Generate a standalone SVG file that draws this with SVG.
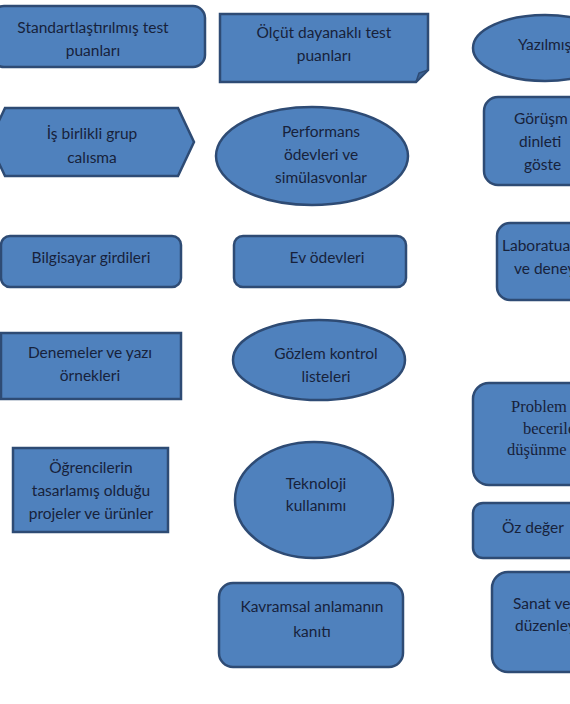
<svg xmlns="http://www.w3.org/2000/svg" width="570" height="704" viewBox="0 0 570 704">
<style>
.s{fill:#4f81bd;stroke:#2e4b74;stroke-width:2.5}
.t{font-family:Lato,"Open Sans","Liberation Sans",sans-serif;font-size:15.5px;fill:#17223b;text-anchor:middle;dominant-baseline:central}
.l{text-anchor:start}
.r{font-family:"Liberation Serif",serif;font-size:16.5px;fill:#17223b;text-anchor:start;dominant-baseline:central}
</style>
<rect width="570" height="704" fill="#ffffff"/>
<g id="n1"><rect class="s" x="-8" y="6" width="213" height="61" rx="12"/><text class="t" x="93" y="27">Standartlaştırılmış test</text><text class="t" x="93" y="50">puanları</text></g>
<g id="n2"><path class="s" d="M220,14 H428 V70 L416,82 H220 Z"/><path d="M416,82 L419,73 L428,70 Z" fill="#3b6294" stroke="#2e4b74" stroke-width="1.5"/><text class="t" x="324" y="32">Ölçüt dayanaklı test</text><text class="t" x="324" y="55">puanları</text></g>
<g id="n3"><ellipse class="s" cx="545" cy="48" rx="72" ry="33"/><text class="t l" x="518" y="44">Yazılmış</text></g>
<g id="n4"><path class="s" d="M5,108 H178 L194,142 L178,176 H5 L-11,142 Z"/><text class="t" x="92" y="133">İş birlikli grup</text><text class="t" x="92" y="157">calısma</text></g>
<g id="n5"><ellipse class="s" cx="312" cy="156" rx="96" ry="49"/><text class="t" x="321" y="131">Performans</text><text class="t" x="321" y="154">ödevleri ve</text><text class="t" x="321" y="177">simülasvonlar</text></g>
<g id="n6"><rect class="s" x="484" y="97" width="110" height="88" rx="14"/><text class="t l" x="514" y="118">Görüşm</text><text class="t l" x="519" y="141">dinleti</text><text class="t l" x="524" y="164">göste</text></g>
<g id="n7"><rect class="s" x="1" y="236" width="180" height="51" rx="9"/><text class="t" x="91" y="257">Bilgisayar girdileri</text></g>
<g id="n8"><rect class="s" x="234" y="236" width="172" height="51" rx="9"/><text class="t" x="327" y="257">Ev ödevleri</text></g>
<g id="n9"><rect class="s" x="497" y="223" width="100" height="77" rx="13"/><text class="t l" x="502" y="245">Laboratuar</text><text class="t l" x="514" y="268">ve deney</text></g>
<g id="n10"><rect class="s" x="1" y="333" width="180" height="66"/><text class="t" x="90" y="352">Denemeler ve yazı</text><text class="t" x="90" y="375">örnekleri</text></g>
<g id="n11"><ellipse class="s" cx="319" cy="360" rx="86" ry="40"/><text class="t" x="326" y="353">Gözlem kontrol</text><text class="t" x="326" y="376">listeleri</text></g>
<g id="n12"><rect class="s" x="473" y="383" width="120" height="102" rx="16"/><text class="r" x="511" y="406">Problem</text><text class="r" x="523" y="428">becerile</text><text class="r" x="507" y="449">düşünme</text></g>
<g id="n13"><rect class="s" x="473" y="503" width="120" height="55" rx="10"/><text class="t l" x="502" y="527">Öz değer</text></g>
<g id="n14"><rect class="s" x="13" y="448" width="155" height="84"/><text class="t" x="91" y="467">Öğrencilerin</text><text class="t" x="91" y="490">tasarlamış olduğu</text><text class="t" x="91" y="513">projeler ve ürünler</text></g>
<g id="n15"><ellipse class="s" cx="314" cy="500" rx="79" ry="58"/><text class="t" x="316" y="483">Teknoloji</text><text class="t" x="316" y="505">kullanımı</text></g>
<g id="n16"><rect class="s" x="219" y="583" width="184" height="84" rx="14"/><text class="t" x="312" y="606">Kavramsal anlamanın</text><text class="t" x="312" y="631">kanıtı</text></g>
<g id="n17"><rect class="s" x="492" y="572" width="100" height="100" rx="16"/><text class="r" x="513" y="603" style="font-family:Lato,'Open Sans',sans-serif;font-size:15.5px">Sanat ve</text><text class="t l" x="515" y="625">düzenley</text></g>
<g id="connectors"></g>
</svg>
